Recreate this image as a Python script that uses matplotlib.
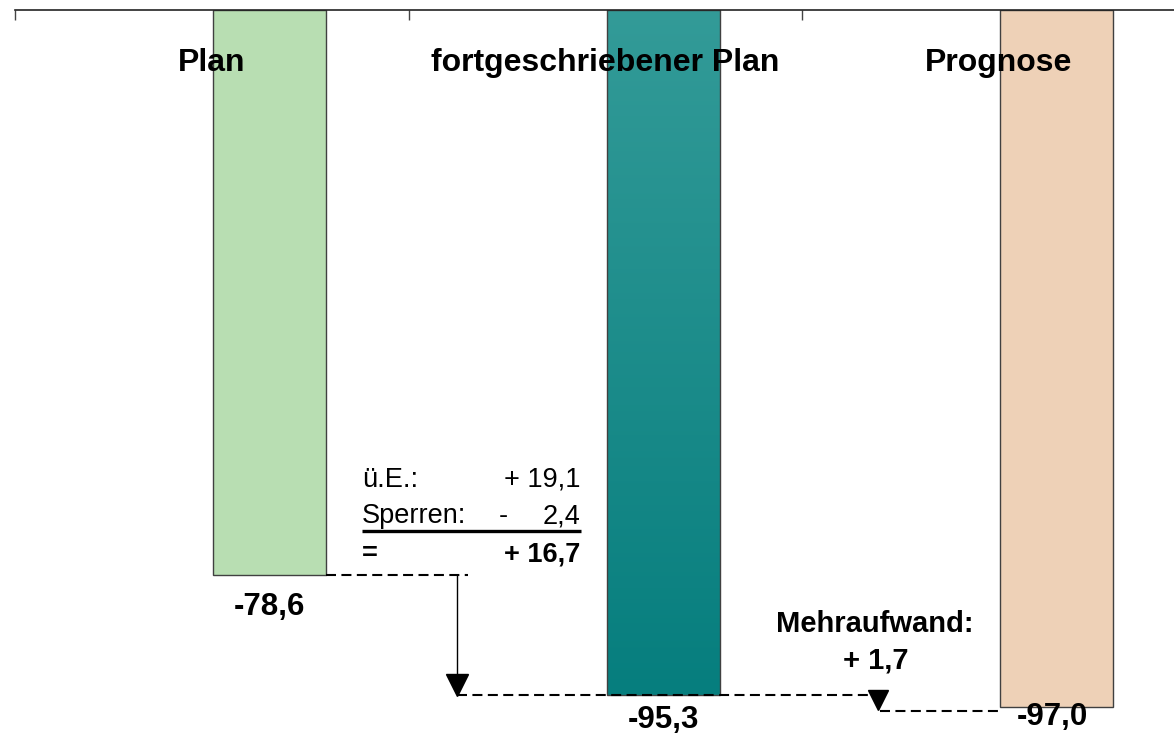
import numpy as np
import matplotlib
matplotlib.use('Agg')
import matplotlib.pyplot as plt
from matplotlib.colors import LinearSegmentedColormap

plt.rcParams['font.family'] = ['Liberation Sans', 'DejaVu Sans']

categories = ['Plan', 'fortgeschriebener Plan', 'Prognose']
values = [-78.6, -95.3, -97.0]
value_labels = ['-78,6', '-95,3', '-97,0']
bar_colors = ['#b8deb2', None, '#eed1b7']
teal_top, teal_bottom = '#339b98', '#067e7e'

ue_text = ['ü.E.:', '+ 19,1']
sperren_text = ['Sperren:', '-', '2,4']
sum_text = ['=', '+ 16,7']
mehr_text = ['Mehraufwand:', '+ 1,7']

W, H = 1174, 740
fig = plt.figure(figsize=(W / 100, H / 100), dpi=100)
px_per_unit = 7.19
cat_px = 393.5
ax = fig.add_axes([15 / W, 0, 1 - 15 / W, 1 - 10 / H])

x = np.arange(len(categories))
offset = 0.147
width = 0.287
bars = ax.bar(x + offset, values, width=width, color=[c if c else 'none' for c in bar_colors],
              edgecolor='#404040', linewidth=1.0, zorder=2)

# gradient on the middle bar
cmap = LinearSegmentedColormap.from_list('teal', [teal_bottom, teal_top])
b = bars[1]
grad = np.linspace(0, 1, 256).reshape(-1, 1)
im = ax.imshow(grad, cmap=cmap, aspect='auto', origin='lower',
               extent=(b.get_x(), b.get_x() + b.get_width(), values[1], 0), zorder=1.9)
im.set_clip_path(b)

# axis: only top line with ticks at category boundaries
for s in ['left', 'right', 'bottom']:
    ax.spines[s].set_visible(False)
ax.spines['top'].set_linewidth(1.2)
ax.spines['top'].set_color('#222222')
ax.xaxis.tick_top()
ax.set_xticks(np.arange(-0.5, len(categories) - 0.5, 1.0))
ax.tick_params(axis='x', direction='in', length=7, width=1, color='#444444', labeltop=False)
ax.set_yticks([])
ax.set_xlim(-0.5, -0.5 + (W - 15) / cat_px)
ax.set_ylim(-(H - 10) / px_per_unit, 0)

for i, cat in enumerate(categories):
    ax.text(i, -7.4, cat, ha='center', va='center', fontsize=23, fontweight='bold', zorder=5)

# value labels under the bars
lab_y = [-83.0, -98.75, -98.3]
lab_x = [0.147, 1.147, 2.137]
for xi, yi, t in zip(lab_x, lab_y, value_labels):
    ax.text(xi, yi, t, ha='center', va='center', fontsize=22.5, fontweight='bold', zorder=5)

dash = (0, (4.8, 2.6))
# Plan -> fortgeschriebener Plan
plan_right = bars[0].get_x() + bars[0].get_width()
ax.plot([plan_right, 0.651], [values[0], values[0]], color='black', lw=1.5, linestyle=dash, zorder=3)
ax.plot([0.623, 0.623], [values[0], values[1] + 2], color='black', lw=1.0, zorder=3)
ax.plot([0.623], [values[1] + 10.5 / px_per_unit], marker='v', markersize=15.5,
        color='black', linestyle='none', zorder=3)
ax.plot([0.623, 1.673], [values[1], values[1]], color='black', lw=1.5, linestyle=dash, zorder=3)

# fortgeschriebener Plan -> Prognose
ax.plot([1.693], [-95.9], marker='v', markersize=15, color='black', linestyle='none', zorder=3)
ax.plot([1.698, bars[2].get_x()], [-97.5, -97.5], color='black', lw=1.5, linestyle=dash, zorder=3)

# calculation block
ax.text(0.382, -65.3, ue_text[0], ha='left', va='center', fontsize=19.5)
ax.text(0.936, -65.3, ue_text[1], ha='right', va='center', fontsize=19.5)
ax.text(0.382, -70.4, sperren_text[0], ha='left', va='center', fontsize=19.5)
ax.text(0.742, -70.4, sperren_text[1], ha='center', va='center', fontsize=19.5)
ax.text(0.936, -70.4, sperren_text[2], ha='right', va='center', fontsize=19.5)
ax.plot([0.382, 0.938], [-72.5, -72.5], color='black', lw=2.4, solid_capstyle='butt')
ax.text(0.382, -75.7, sum_text[0], ha='left', va='center', fontsize=19.5, fontweight='bold')
ax.text(0.936, -75.7, sum_text[1], ha='right', va='center', fontsize=19.5, fontweight='bold')

ax.text(1.686, -85.4, mehr_text[0], ha='center', va='center', fontsize=21, fontweight='bold')
ax.text(1.688, -90.5, mehr_text[1], ha='center', va='center', fontsize=21, fontweight='bold')

fig.savefig('out.png', dpi=100)
